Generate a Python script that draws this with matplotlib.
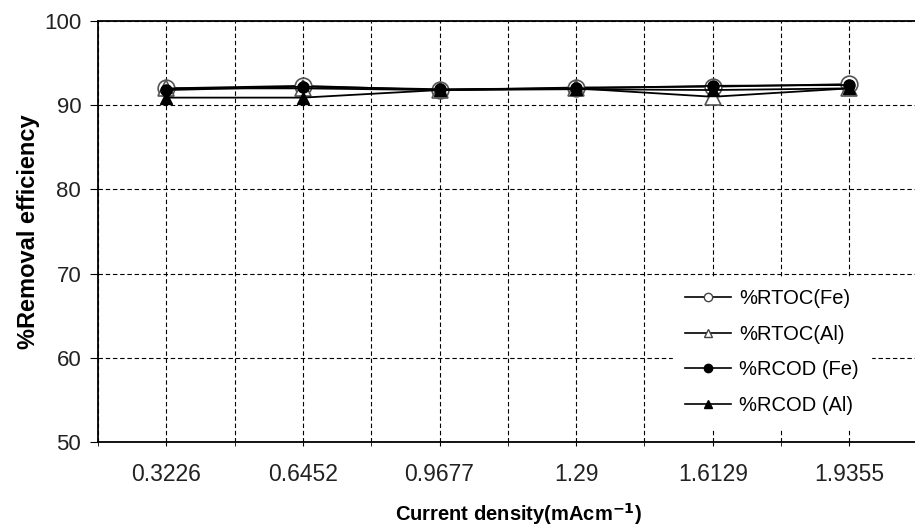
import matplotlib.pyplot as plt
from matplotlib.lines import Line2D
import numpy as np

plt.rcParams['font.family'] = ['Liberation Sans', 'DejaVu Sans']

current_density = ['0.3226', '0.6452', '0.9677', '1.29', '1.6129', '1.9355']
rtoc_fe = [92.0, 92.3, 91.8, 92.1, 92.2, 92.5]
rtoc_al = [92.0, 92.0, 91.8, 92.0, 91.0, 92.0]
rcod_fe = [91.8, 92.2, 91.9, 92.0, 92.3, 92.4]
rcod_al = [90.9, 90.9, 91.8, 91.9, 91.8, 92.0]

fig = plt.figure(figsize=(9.15, 5.26), dpi=100)
ax = fig.add_axes([0.107, 0.16, 0.896, 0.80])

x = np.arange(len(current_density))
ax.plot(x, rtoc_fe, '-', color='black', lw=1.3, marker='o', ms=12,
        mfc='white', mec='#555555', mew=1.2)
ax.plot(x, rtoc_al, '-', color='black', lw=1.3, marker='^', ms=11,
        mfc='white', mec='#555555', mew=1.2)
ax.plot(x, rcod_fe, '-', color='black', lw=1.3, marker='o', ms=8,
        mfc='black', mec='black')
ax.plot(x, rcod_al, '-', color='black', lw=1.3, marker='^', ms=8,
        mfc='black', mec='black')

ax.set_xlim(-0.5, 5.5)
ax.set_ylim(50, 100)
ax.set_yticks(range(50, 101, 10))
ax.set_xticks(x)
ax.set_xticklabels(current_density)
ax.set_xticks(np.arange(-0.5, 5.6, 1), minor=True)
ax.tick_params(axis='x', which='both', length=3, direction='out', pad=12,
               labelsize=16.5, colors='black')
ax.tick_params(axis='y', length=6, direction='out', labelsize=16, pad=6)
for lab in ax.get_xticklabels() + ax.get_yticklabels():
    lab.set_color('#222222')

ax.grid(True, which='both', color='black', linestyle=(0, (4, 2.5)), lw=0.8)
ax.set_axisbelow(True)
ax.spines['right'].set_visible(False)
for s in ['left', 'bottom', 'top']:
    ax.spines[s].set_linewidth(1.3)

ax.set_ylabel('%Removal efficiency', fontsize=17, fontweight='bold', labelpad=3)
ax.set_xlabel('Current density(mAcm$^{\\mathbf{-1}}$)', fontsize=14.5,
              fontweight='bold')
ax.xaxis.set_label_coords(0.513, -0.14)

handles = [
    Line2D([], [], color='black', lw=1.2, marker='o', ms=6, mfc='white', mec='#444444'),
    Line2D([], [], color='black', lw=1.2, marker='^', ms=6, mfc='white', mec='#444444'),
    Line2D([], [], color='black', lw=1.2, marker='o', ms=6, mfc='black', mec='black'),
    Line2D([], [], color='black', lw=1.2, marker='^', ms=6, mfc='black', mec='black'),
]
labels = ['%RTOC(Fe)', '%RTOC(Al)', '%RCOD (Fe)', '%RCOD (Al)']
leg = ax.legend(handles, labels, loc='center', bbox_to_anchor=(0.822, 0.213),
                frameon=True, fontsize=14.5, handlelength=2.3, handletextpad=0.4,
                labelspacing=0.82, borderpad=0.6, fancybox=False)
leg.get_frame().set_edgecolor('white')
leg.get_frame().set_facecolor('white')
leg.get_frame().set_alpha(1)

fig.savefig('out.png', dpi=100)
